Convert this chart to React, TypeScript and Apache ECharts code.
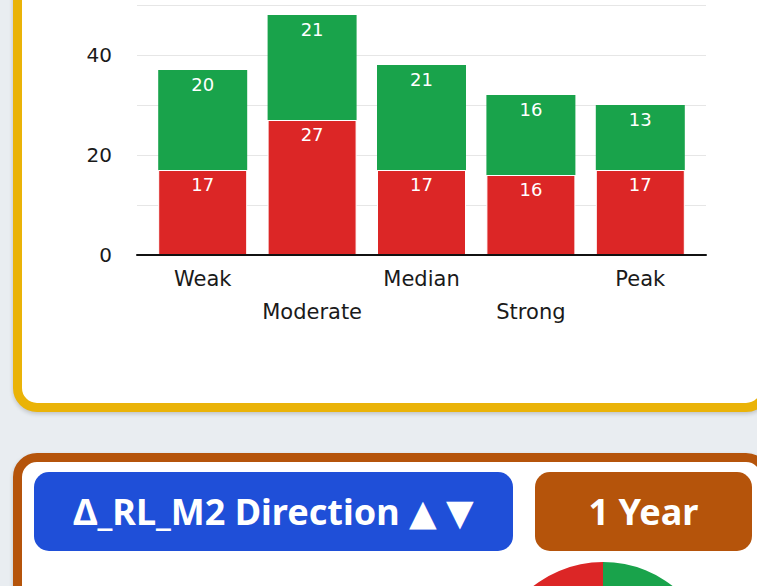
import React, { useEffect, useRef } from "react";
import * as echarts from "echarts";

const categories = ["Weak", "Moderate", "Median", "Strong", "Peak"];
const redValues = [17, 27, 17, 16, 17];
const greenValues = [20, 21, 21, 16, 13];
const yTickLabels = [0, 20, 40];
const pieNames = ["Up", "Down"];
const pieValues = [91, 94];

const RED = "#dc2626";
const GREEN = "#19a34b";
const FONT = "'DejaVu Sans', sans-serif";

function BarChart() {
  const ref = useRef<HTMLDivElement>(null);
  useEffect(() => {
    const chart = echarts.init(ref.current!, null, { renderer: "svg" });
    const labelCommon = {
      show: true,
      position: "insideTop" as const,
      distance: 5,
      color: "#fff",
      fontSize: 18,
      fontFamily: FONT,
    };
    chart.setOption({
      animation: false,
      grid: [
        { left: 137, right: 51, top: 5, height: 250 },
        { left: 148, right: 62, top: 5, height: 250 },
      ],
      xAxis: [
        {
          gridIndex: 0,
          type: "value",
          min: 0,
          max: 1,
          z: 5,
          axisLine: { show: true, onZero: false, lineStyle: { color: "#111", width: 2 } },
          axisTick: { show: false },
          axisLabel: { show: false },
          splitLine: { show: false },
        },
        {
          gridIndex: 1,
          type: "category",
          data: categories,
          axisLine: { show: false },
          axisTick: { show: false },
          splitLine: { show: false },
          axisLabel: {
            interval: 0,
            margin: 7,
            lineHeight: 33,
            color: "#1a1a1a",
            fontSize: 21,
            fontFamily: FONT,
            formatter: (v: string, i: number) => (i % 2 === 1 ? "\n" + v : v),
          },
        },
      ],
      yAxis: [
        {
          gridIndex: 0,
          type: "value",
          min: 0,
          max: 50,
          interval: 10,
          axisLine: { show: false },
          axisTick: { show: false },
          splitLine: { show: true, lineStyle: { color: "#e6e6e6", width: 1 } },
          axisLabel: {
            margin: 25,
            color: "#1a1a1a",
            fontSize: 20,
            fontFamily: FONT,
            formatter: (v: number) => (yTickLabels.includes(v) ? String(v) : ""),
          },
        },
        {
          gridIndex: 1,
          type: "value",
          min: 0,
          max: 50,
          show: false,
        },
      ],
      series: [
        {
          type: "bar",
          name: "Down",
          xAxisIndex: 1,
          yAxisIndex: 1,
          stack: "total",
          barWidth: 89,
          data: redValues,
          itemStyle: { color: RED, borderColor: "#fff", borderWidth: 1 },
          label: labelCommon,
        },
        {
          type: "bar",
          name: "Up",
          xAxisIndex: 1,
          yAxisIndex: 1,
          stack: "total",
          barWidth: 88,
          data: greenValues,
          itemStyle: { color: GREEN },
          label: labelCommon,
        },
      ],
    });
    return () => chart.dispose();
  }, []);
  return (
    <div
      ref={ref}
      style={{ position: "absolute", left: 0, top: 0, width: 757, height: 400 }}
    />
  );
}

function PieChart() {
  const ref = useRef<HTMLDivElement>(null);
  useEffect(() => {
    const chart = echarts.init(ref.current!, null, { renderer: "svg" });
    chart.setOption({
      animation: false,
      series: [
        {
          type: "pie",
          center: [123, 125],
          radius: 113,
          startAngle: 90,
          clockwise: true,
          label: { show: false },
          labelLine: { show: false },
          data: pieNames.map((n, i) => ({
            name: n,
            value: pieValues[i],
            itemStyle: { color: i === 0 ? GREEN : RED },
          })),
        },
      ],
    });
    return () => chart.dispose();
  }, []);
  return (
    <div
      ref={ref}
      style={{ position: "absolute", left: 480, top: 550, width: 250, height: 250 }}
    />
  );
}

const buttonStyle: React.CSSProperties = {
  position: "absolute",
  top: 472,
  height: 79,
  borderRadius: 15,
  color: "#fff",
  fontFamily: "'Noto Sans', 'DejaVu Sans', sans-serif",
  fontWeight: 700,
  fontSize: 36,
  display: "flex",
  alignItems: "center",
  justifyContent: "center",
  whiteSpace: "nowrap",
};

export default function App() {
  return (
    <div
      style={{
        position: "fixed",
        left: 0,
        top: 0,
        width: 757,
        height: 586,
        overflow: "hidden",
        background: "#e9edf1",
      }}
    >
      <div
        style={{
          position: "absolute",
          left: 13,
          top: -200,
          width: 757,
          height: 612,
          boxSizing: "border-box",
          border: "9px solid #eab308",
          borderRadius: 24,
          background: "#fff",
          boxShadow: "0 2px 4px rgba(0,0,0,0.18)",
        }}
      />
      <BarChart />
      <div
        style={{
          position: "absolute",
          left: 13,
          top: 453,
          width: 757,
          height: 400,
          boxSizing: "border-box",
          border: "9px solid #b5540b",
          borderRadius: 24,
          background: "#fff",
          boxShadow: "0 2px 4px rgba(0,0,0,0.18)",
        }}
      />
      <div style={{ ...buttonStyle, left: 34, width: 479, background: "#1f4fd8" }}>
        Δ_RL_M2 Direction ▲ ▼
      </div>
      <div style={{ ...buttonStyle, left: 535, width: 217, background: "#b5540b" }}>
        1 Year
      </div>
      <PieChart />
    </div>
  );
}
